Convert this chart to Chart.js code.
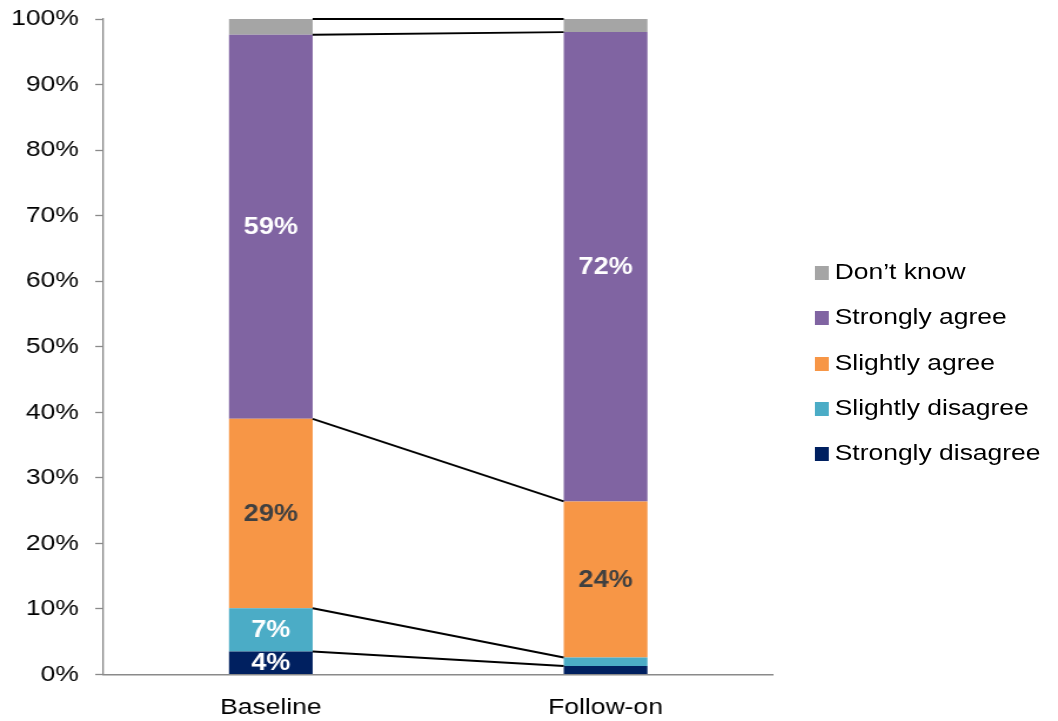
<!DOCTYPE html>
<html>
<head>
<meta charset="utf-8">
<script src="https://cdn.jsdelivr.net/npm/chart.js@4/dist/chart.umd.min.js"></script>
<style>
  html, body { margin: 0; padding: 0; background: #fff; overflow: hidden; }
  #wrap {
    position: absolute; left: 0; top: 0; width: 900px; height: 721px;
    transform: scaleX(1.1756); transform-origin: 0 0;
  }
  #chart { position: absolute; left: 0; top: 0; }
  .lg-item {
    position: absolute; left: 693px; height: 28px; line-height: 28px;
    font: 22.5px Arial, "Liberation Sans", sans-serif; color: #000; white-space: nowrap;
  }
  .lg-box { position: absolute; left: 0; top: 7px; width: 12px; height: 14px; }
  .lg-text { position: absolute; left: 17px; top: 0; }
</style>
</head>
<body>
<div id="wrap">
  <canvas id="chart" width="900" height="721"></canvas>
  <div id="legend"></div>
</div>
<script>
// categories and series (percent of respondents)
const categories = ['Baseline', 'Follow-on'];
const seriesNames = ['Strongly disagree', 'Slightly disagree', 'Slightly agree', 'Strongly agree', 'Don\u2019t know'];
const stronglyDisagree = [3.5, 1.3];
const slightlyDisagree = [6.6, 1.3];
const slightlyAgree = [28.9, 23.8];
const stronglyAgree = [58.6, 71.6];
const dontKnow = [2.4, 2.0];
const yTickValues = [0, 10, 20, 30, 40, 50, 60, 70, 80, 90, 100];

const seriesValues = [stronglyDisagree, slightlyDisagree, slightlyAgree, stronglyAgree, dontKnow];
const seriesColors = ['#002060', '#4BACC6', '#F79646', '#8064A2', '#A5A5A5'];
const labelColors = ['#ffffff', '#ffffff', '#404040', '#ffffff', '#ffffff'];
const FONT = 'Arial, "Liberation Sans", sans-serif';

// values + labels inside segments, lines joining segment tops
const segmentLabels = {
  id: 'segmentLabels',
  afterDatasetsDraw(chart) {
    const ctx = chart.ctx;
    ctx.save();
    // series lines
    ctx.strokeStyle = '#000';
    ctx.lineWidth = 1.9;
    chart.data.datasets.forEach((ds, i) => {
      const bars = chart.getDatasetMeta(i).data;
      const a = bars[0], b = bars[1];
      ctx.beginPath();
      ctx.moveTo(a.x + a.width / 2, a.y);
      ctx.lineTo(b.x - b.width / 2, b.y);
      ctx.stroke();
    });
    // labels
    ctx.font = 'bold 23px ' + FONT;
    ctx.textAlign = 'center';
    ctx.textBaseline = 'middle';
    chart.data.datasets.forEach((ds, i) => {
      chart.getDatasetMeta(i).data.forEach((bar, j) => {
        const v = ds.data[j];
        if (v < 3) return;
        ctx.fillStyle = labelColors[i];
        ctx.fillText(Math.round(v) + '%', bar.x, (bar.y + bar.base) / 2 + 1);
      });
    });
    ctx.restore();
  }
};

new Chart(document.getElementById('chart'), {
  type: 'bar',
  data: {
    labels: categories,
    datasets: seriesNames.map((name, i) => ({
      label: name,
      data: seriesValues[i],
      backgroundColor: seriesColors[i],
      borderWidth: 0,
      barPercentage: 0.25,
      categoryPercentage: 1
    }))
  },
  options: {
    responsive: false,
    animation: false,
    layout: { padding: { top: 19, right: 242.5, left: 0, bottom: 0 } },
    plugins: { legend: { display: false }, tooltip: { enabled: false } },
    scales: {
      x: {
        stacked: true,
        grid: { display: false },
        border: { color: '#8a8a8a', width: 1.5 },
        ticks: { color: '#000', padding: 12, font: { family: FONT, size: 22.5 } },
        afterFit(scale) { scale.height = 46.5; }
      },
      y: {
        stacked: true,
        min: 0, max: 100,
        afterBuildTicks(scale) { scale.ticks = yTickValues.map(v => ({ value: v })); },
        grid: { drawOnChartArea: false, tickLength: 7, tickColor: '#8a8a8a', tickWidth: 1.3 },
        border: { color: '#8a8a8a', width: 1.3 },
        ticks: { color: '#000', padding: 14, font: { family: FONT, size: 22.5 }, callback: v => v + '%' },
        afterFit(scale) {
          scale.width = 88;
          scale.paddingTop = 0;
          scale.paddingBottom = 0;
        }
      }
    }
  },
  plugins: [segmentLabels]
});

// legend, top entry is the last series
const legendEl = document.getElementById('legend');
seriesNames.slice().reverse().forEach((name, k) => {
  const i = seriesNames.length - 1 - k;
  const item = document.createElement('div');
  item.className = 'lg-item';
  item.style.top = (258.7 + k * 45.4) + 'px';
  item.innerHTML = '<span class="lg-box" style="background:' + seriesColors[i] + '"></span><span class="lg-text"></span>';
  item.querySelector('.lg-text').textContent = name;
  legendEl.appendChild(item);
});
</script>
</body>
</html>
